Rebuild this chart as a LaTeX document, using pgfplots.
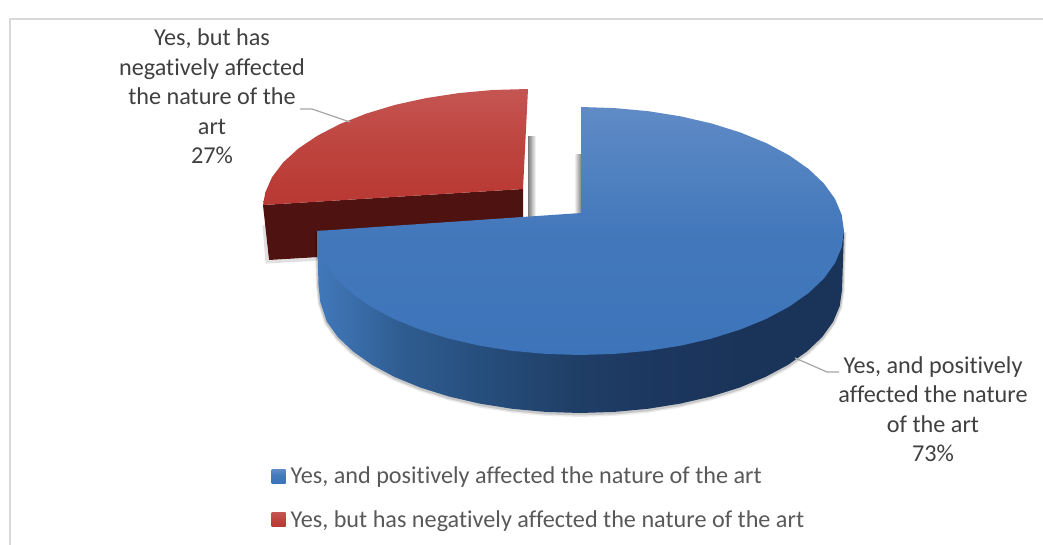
\documentclass[border=0pt]{standalone}
\usepackage{pgfplots}
\usepackage{pgfplotstable}
\usepackage{fontspec}
\pgfplotsset{compat=1.18}
\setmainfont[Ligatures=NoCommon]{Carlito}

% Colour ramps for the slices
\pgfdeclareverticalshading{bluetop}{100bp}{
  rgb(0bp)=(0.240,0.455,0.725); rgb(25bp)=(0.240,0.455,0.725);
  rgb(50bp)=(0.262,0.470,0.735); rgb(75bp)=(0.375,0.545,0.775); rgb(100bp)=(0.375,0.545,0.775)}
\pgfdeclarehorizontalshading{blueside}{100bp}{
  rgb(0bp)=(0.255,0.475,0.735); rgb(25bp)=(0.255,0.475,0.735);
  rgb(28.1bp)=(0.230,0.430,0.670); rgb(32.9bp)=(0.185,0.365,0.570);
  rgb(39.5bp)=(0.155,0.315,0.500); rgb(48.7bp)=(0.125,0.250,0.410);
  rgb(56.6bp)=(0.110,0.215,0.375); rgb(66bp)=(0.102,0.200,0.345);
  rgb(75bp)=(0.102,0.200,0.345); rgb(100bp)=(0.102,0.200,0.345)}
\pgfdeclareverticalshading{redtop}{100bp}{
  rgb(0bp)=(0.725,0.220,0.200); rgb(25bp)=(0.725,0.220,0.200);
  rgb(50bp)=(0.745,0.265,0.245); rgb(75bp)=(0.770,0.335,0.320); rgb(100bp)=(0.770,0.335,0.320)}
\pgfdeclarehorizontalshading{fadeleft}{100bp}{
  rgb(0bp)=(1,1,1); rgb(25bp)=(1,1,1); rgb(75bp)=(0.52,0.52,0.52); rgb(100bp)=(0.52,0.52,0.52)}
\pgfdeclarehorizontalshading{faderight}{100bp}{
  rgb(0bp)=(0.48,0.48,0.48); rgb(25bp)=(0.48,0.48,0.48); rgb(75bp)=(1,1,1); rgb(100bp)=(1,1,1)}

\definecolor{labeltext}{HTML}{404040}
\definecolor{legendtext}{HTML}{595959}
\definecolor{redfront}{HTML}{4E1210}
\definecolor{framegrey}{HTML}{D9D9D9}
\definecolor{leader}{HTML}{A6A6A6}

% Outline of the 73% slice, top face
\pgfplotstableread{
x y
581 107
614.5 108.1
648.3 111.2
681 116.4
712 123.6
740.7 132.6
766.7 143.3
789.4 155.5
808.6 169
823.9 183.5
835 198.9
841.7 214.8
844 231
841.7 247.2
835 263.1
823.9 278.5
808.6 293
789.4 306.5
766.7 318.7
740.7 329.4
712 338.4
681 345.6
648.3 350.8
614.5 353.9
580 355
545.5 353.9
511.7 350.8
479 345.6
448 338.4
419.3 329.4
393.3 318.7
370.6 306.5
351.4 293
336.1 278.5
325 263.1
318.3 247.2
317 231
581 213
}\bluetoptable

% Lower rim of the 73% slice
\pgfplotstableread{
x y
844 231
842 290
839.7 306.1
833.1 321.8
822.1 337.1
806.9 351.5
787.9 364.9
765.3 377
739.5 387.6
711 396.5
680.3 403.6
647.8 408.8
614.2 411.9
580 413
545.8 411.9
512.2 408.8
479.7 403.6
449 396.5
420.5 387.6
394.7 377
372.1 364.9
353.1 351.5
337.9 337.1
326.9 321.8
320.3 302
318.5 285
317 231
}\bluesidetable

% Outline of the 27% slice, top face
\pgfplotstableread{
x y
528 89
492.5 90
458.7 93.1
426 98.1
395 104.9
366.3 113.6
340.3 123.9
317.6 135.6
298.4 148.5
283.1 162.5
272 177.2
265.3 192.5
263 205
523 189
}\redtoptable

% Cut face of the 27% slice
\pgfplotstableread{
x y
263 205
523 189
523 245
269 260
}\redfronttable

\begin{document}
\begin{tikzpicture}
\path[use as bounding box] (0,0) rectangle (1043pt,545pt);
\begin{axis}[
  at={(0,0)}, anchor=south west,
  width=1043pt, height=545pt, scale only axis,
  xmin=0, xmax=1043, ymin=0, ymax=545, y dir=reverse,
  hide axis, clip=true,
  reverse legend,
  legend image code/.code={\path[#1, draw=none] (0pt,-7pt) rectangle (14pt,7pt);},
  legend style={at={(0.2605,0.1433)}, anchor=north west, draw=none, fill=none,
    font=\fontsize{24.2}{27}\selectfont, text=legendtext,
    row sep=25pt, inner sep=0pt, outer sep=0pt,
    nodes={inner sep=0pt, outer sep=0pt, anchor=west, xshift=5pt}},
  legend cell align=left,
]
% Chart frame
\addplot[framegrey, line width=1.5pt, forget plot] coordinates {(10,545) (10,19) (1043,19)};

% Soft shadows beside the cut faces
\addplot[shading=faderight, draw=none, forget plot] coordinates {(528,137) (536,137) (536,218) (528,218)} -- cycle;
\addplot[shading=fadeleft, draw=none, forget plot] coordinates {(574,155) (581,155) (581,213) (574,213)} -- cycle;

% Shadow under the cut face of the 27% slice
\addplot[black, opacity=0.12, line width=3pt, forget plot] coordinates {(264,225) (267,262) (320,259)};

% 27% slice
\addplot[fill=redfront, draw=none, forget plot] table {\redfronttable} -- cycle;
\addplot[shading=redtop, draw=none] table {\redtoptable} -- cycle;
\addlegendentry{\hspace{5pt}Yes, but has negatively affected the nature of the art}

% Shadow under the rim of the 73% slice
\addplot[black, opacity=0.08, line width=5pt, forget plot, yshift=-1.5pt] table {\bluesidetable};
\addplot[black, opacity=0.15, line width=3pt, forget plot, yshift=-1pt] table {\bluesidetable};

% 73% slice
\addplot[shading=blueside, draw=none, forget plot] table {\bluesidetable} -- cycle;
\addplot[shading=bluetop, draw=none] table {\bluetoptable} -- cycle;
\addlegendentry{\hspace{5pt}Yes, and positively affected the nature of the art}

% Leader lines
\addplot[leader, line width=1.2pt, forget plot] coordinates {(300,109) (312,109) (350,122)};
\addplot[leader, line width=1.2pt, forget plot] coordinates {(795,358) (827,372) (839,372)};

% Data labels
\node[align=center, text=labeltext, font=\fontsize{24.2}{29.5}\selectfont, anchor=center]
  at (axis cs:212,96.5) {Yes, but has\\negatively affected\\the nature of the\\art\\27\%};
\node[align=center, text=labeltext, font=\fontsize{24.2}{29.5}\selectfont, anchor=center]
  at (axis cs:933,409) {Yes, and positively\\affected the nature\\of the art\\73\%};
\end{axis}
\end{tikzpicture}
\end{document}
